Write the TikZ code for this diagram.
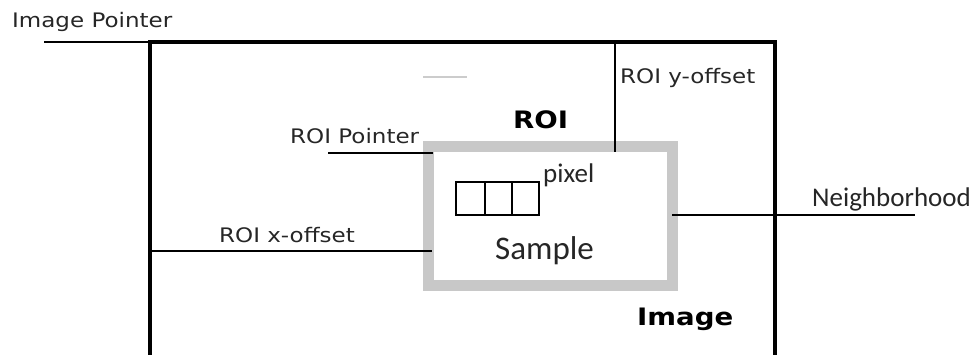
\documentclass[tikz,border=0pt]{standalone}
\usepackage{fontspec}
\newfontfamily\vfont[FakeStretch=1.15]{DejaVu Sans}
\newfontfamily\vbfont[FakeStretch=1.15]{DejaVu Sans Bold}
\newfontfamily\cfont{Carlito}
\definecolor{roigray}{RGB}{200,200,200}
\begin{document}
\begin{tikzpicture}[x=1pt,y=-1pt,
  lbl/.style={inner sep=0pt,anchor=base west,font=\vfont\fontsize{20}{24}\selectfont,text=black!85},
  blbl/.style={inner sep=0pt,anchor=base west,font=\vbfont\fontsize{24}{28}\selectfont},
  clbl/.style={inner sep=0pt,anchor=base west,text=black!85},
  thin line/.style={line width=1.4pt},
  frame/.style={line width=3.2pt},
  roibox/.style={draw=roigray,line width=11pt,inner sep=0pt,minimum width=244pt,minimum height=139pt}]
\useasboundingbox (0,0) rectangle (974,354);
% image frame
\coordinate (imgBL) at (150,365);
\coordinate (imgTL) at (150,42);
\coordinate (imgTR) at (775,42);
\coordinate (imgBR) at (775,365);
\draw[frame] (imgBL) -- (imgTL) -- (imgTR) -- (imgBR);
% ROI box
\node[roibox] (roi) at (550,215.5) {};
% faint stray line
\coordinate (fa) at (423,77);
\coordinate (fb) at (467,77);
\draw[black!20,line width=1.2pt] (fa) -- (fb);
% labels
\node[lbl] (imgptr) at (12,27) {Image Pointer};
\node[lbl] (yoff) at (620,83) {ROI y-offset};
\node[lbl] (roiptr) at (290,143) {ROI Pointer};
\node[lbl] (xoff) at (219,242) {ROI x-offset};
\node[blbl] (roilbl) at (513,128) {ROI};
\node[blbl] (imglbl) at (637,325) {Image};
\node[clbl,font=\cfont\fontsize{27}{30}\selectfont] (pix) at (543,182) {pixel};
\node[clbl,font=\cfont\fontsize{33}{36}\selectfont] (sample) at (495,259) {Sample};
\node[clbl,font=\cfont\fontsize{27}{30}\selectfont] (neigh) at (812,206) {Neighborhood};
% pixel cells
\node[draw,thin line,inner sep=0pt,minimum width=29pt,minimum height=33pt] (c1) at (470.5,198.5) {};
\node[draw,thin line,inner sep=0pt,minimum width=27pt,minimum height=33pt] (c2) at (498.5,198.5) {};
\node[draw,thin line,inner sep=0pt,minimum width=27pt,minimum height=33pt] (c3) at (525.5,198.5) {};
% connectors
\coordinate (ipstart) at (44,42);
\draw[thin line] (ipstart) -- (imgTL);
\coordinate (ytop) at (615,42);
\coordinate (ybot) at (615,152);
\draw[thin line] (ytop) -- (ybot);
\coordinate (rpstart) at (328,153);
\coordinate (rpend) at (433,153);
\draw[thin line] (rpstart) -- (rpend);
\coordinate (xstart) at (150,251);
\coordinate (xend) at (432,251);
\draw[thin line] (xstart) -- (xend);
\coordinate (nstart) at (672,215);
\coordinate (nend) at (915,215);
\draw[thin line] (nstart) -- (nend);
\end{tikzpicture}
\end{document}
